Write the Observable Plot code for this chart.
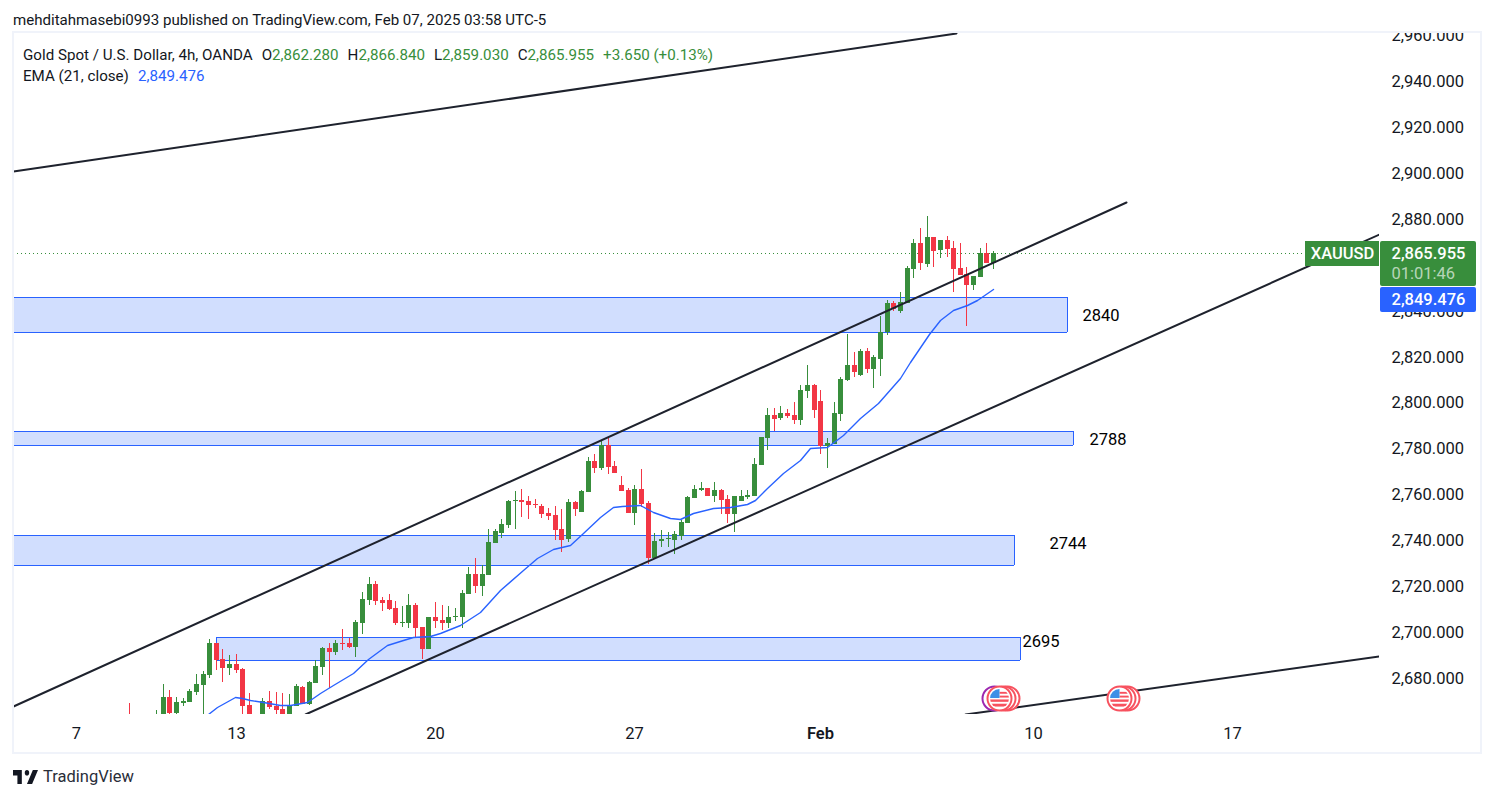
<!DOCTYPE html>
<html><head><meta charset="utf-8">
<script src="https://cdn.jsdelivr.net/npm/d3@7"></script>
<script src="https://cdn.jsdelivr.net/npm/@observablehq/plot@0.6"></script>
<style>
html,body{margin:0;padding:0;background:#fff;width:1494px;height:798px;overflow:hidden;font-family:Roboto,sans-serif;color:#131722}
#wrap{position:relative;width:1494px;height:798px}
#head{height:33px;line-height:41px;padding-left:13px;font-size:15.07px;box-sizing:border-box;white-space:nowrap}
#chart svg{display:block}
#frame{position:absolute;left:12px;top:31px;width:1466px;height:719px;border:2px solid #f0f3fa;pointer-events:none}
#legend{position:absolute;left:23px;top:45px;font-size:15.15px;line-height:21px;white-space:nowrap}
#legend .g{color:#388e3c}#legend .b{color:#2962ff}
#legend span.sp{margin-left:9px}
#foot{position:absolute;left:13px;top:767px;display:flex;align-items:center;gap:5px;font-size:16.5px;color:#2a2e39}
</style></head><body>
<div id="wrap">
<div id="head">mehditahmasebi0993 published on TradingView.com, Feb 07, 2025 03:58 UTC-5</div>
<div id="chart"></div>
<div id="frame"></div>
<div id="legend">
<div>Gold Spot / U.S. Dollar, 4h, OANDA<span class="sp">O</span><span class="g">2,862.280</span><span class="sp">H</span><span class="g">2,866.840</span><span class="sp">L</span><span class="g">2,859.030</span><span class="sp">C</span><span class="g">2,865.955</span><span class="g sp">+3.650 (+0.13%)</span></div>
<div>EMA (21, close)<span class="b sp">2,849.476</span></div>
</div>
<div id="foot"><svg width="25" height="14" viewBox="2 6 34 15" preserveAspectRatio="none"><path fill="#131722" d="M14 6H2v6h6v9h6V6zm14 15h-7l8-15h7l-8 15zm-7-9a3 3 0 1 0 0-6 3 3 0 0 0 0 6z"/></svg><span>TradingView</span></div>
</div>
<script>
const opens=[2663.5,2658,2656,2654,2660,2662.6,2671.7,2664.8,2669.1,2669.5,2673.9,2677,2681.3,2695.2,2688.3,2684.4,2686.1,2683.9,2668.2,2662,2662.6,2670,2667.8,2666.5,2663.5,2667.8,2676.1,2668.7,2677.8,2684.8,2693.1,2691.3,2695.2,2695.2,2693.5,2704,2714,2720.9,2714,2714,2710.5,2704,2704,2711.8,2702.2,2692.6,2706.6,2705.3,2704,2706.6,2706.6,2716.6,2725.3,2720.1,2724.9,2738.8,2743.1,2746.6,2757.1,2757.5,2757.1,2755.8,2754.9,2751.9,2751,2744.9,2740.5,2756.6,2752.3,2761,2774.5,2771.5,2781.5,2772.3,2764.1,2761.9,2751.9,2762.3,2756.2,2732.3,2739.7,2740.5,2740.1,2741.8,2747.5,2758.4,2761.9,2762.7,2759.3,2761.9,2758,2751.4,2757.1,2758.8,2759.3,2772.8,2784.5,2794.5,2793.2,2795.4,2794.5,2792.4,2805,2807.6,2800.6,2781,2781.9,2795,2809.8,2816.3,2812,2822.4,2814.6,2818.9,2830.7,2843.3,2839.8,2843.3,2858.1,2869.4,2860.3,2872.1,2866.4,2870.7,2867.3,2858.6,2855.9,2851.2,2854.6,2865.1,2860.7];
const highs=[2669.1,2660,2658,2656,2666.1,2677.4,2674.8,2671.7,2671.3,2675.2,2681.7,2683,2697,2695.2,2692.6,2690,2690.5,2684.4,2673.5,2663,2671.3,2674.3,2673.9,2673.5,2673,2677.4,2676.5,2678.7,2687.8,2693.5,2695.2,2696.5,2701.3,2697.4,2705.3,2717.5,2724,2722.2,2715.3,2716.6,2713.5,2711.4,2716.6,2712.7,2702.2,2706.6,2713.1,2711.8,2711.4,2710.5,2718.3,2728.3,2732.3,2729.2,2744.9,2744.9,2749.2,2757.5,2761.4,2762.3,2759.3,2758,2755.8,2754,2754.9,2753.6,2758,2757.1,2761.9,2776.2,2777.6,2783.6,2784.5,2774.5,2768,2762.7,2764.1,2771,2757.1,2743.1,2744.5,2743.6,2744,2748.8,2759.3,2764.1,2765.4,2762.7,2765.4,2762.3,2759.7,2759.3,2761.9,2761.9,2775.8,2785,2797.6,2797.6,2798.5,2797.1,2800.2,2807.6,2816.3,2808,2805.4,2784.5,2800.2,2811.1,2829.8,2822,2823.3,2823.7,2820.7,2837.7,2844.6,2844.2,2848.1,2859.4,2871.2,2876,2881.2,2872.1,2870.7,2872.5,2870.3,2869.4,2859,2855.1,2867.3,2869.4,2866];
const lows=[2657.4,2652,2650,2650,2658,2660.8,2663.5,2663.5,2667.8,2669.5,2672.6,2663.5,2680,2683.5,2678.3,2681.3,2682.2,2662.6,2660.8,2658,2660.8,2666.5,2663.5,2662.6,2663,2667.8,2668.7,2668.2,2677.8,2681.3,2675.6,2690,2692.2,2693.1,2689.1,2699.2,2711.8,2711.8,2709.2,2709.6,2703.1,2702.2,2701.8,2697.9,2688.3,2692.6,2701.8,2700.9,2701.8,2704.8,2701.8,2716.6,2717,2715.7,2724.9,2738.8,2741,2745.3,2744.9,2750.1,2749.2,2754,2749.7,2748.8,2740.1,2734.9,2739.2,2750.6,2752.3,2761,2769.3,2770.6,2768.8,2769.3,2761.4,2751.9,2746.6,2754.5,2729.6,2732.3,2737.1,2737.1,2734,2740.1,2747.5,2758.4,2761.4,2759.3,2756.6,2751.4,2747.5,2743.6,2757.1,2758,2759.3,2772.8,2779.3,2787.6,2792.4,2793.2,2790.6,2790.2,2801.9,2793.2,2777.6,2771.5,2781.9,2791.9,2809.3,2811.1,2811.5,2812.8,2806.3,2811.5,2829.4,2839.8,2839,2843.3,2854.2,2857.7,2859,2859,2862.9,2863.3,2848.1,2855.5,2833.3,2849,2854.6,2860.7,2858.2];
const closes=[2660.8,2656,2654,2660,2663.5,2671.7,2664.8,2669.5,2670,2674.3,2677.4,2681.7,2695.2,2687.8,2684.4,2686.1,2683.5,2667.8,2662.6,2660,2670,2667.4,2666.1,2663.5,2668.2,2676.5,2668.7,2678.3,2685.2,2693.1,2691.3,2695.2,2694.8,2693.5,2704.4,2714.4,2720.9,2713.5,2712.7,2710,2704,2704.4,2711.8,2701.8,2692.6,2706.6,2704.8,2704,2706.6,2707,2717,2725.3,2720.1,2725.3,2739.2,2744,2747.1,2757.1,2757.5,2756.6,2755.3,2755.3,2751.4,2750.6,2744.5,2740.1,2756.6,2753.6,2761.4,2774.5,2771.5,2781.5,2771.9,2769.3,2761.4,2751.9,2762.3,2755.8,2732.3,2739.7,2740.5,2741,2742.7,2747.9,2758.8,2762.3,2762.7,2759.3,2761.9,2757.5,2751.4,2759.3,2759.3,2759.7,2773.2,2785,2794.5,2792.8,2795.4,2794.1,2792.4,2805.4,2807.6,2796.7,2781,2782.3,2795.4,2810.2,2816.3,2813.3,2822.4,2814.6,2819.8,2830.7,2843.3,2840.7,2843.7,2858.6,2869.4,2860.7,2872.1,2866,2870.7,2866.8,2858.1,2855.5,2851.2,2855.1,2865.1,2860.7,2865.1];

const emaBars=[11.83,13.18,15.89,16.95,18.15,20.11,22.67,24.17,26.73,28.69,30.64,33.66,35.91,38.77,41.18,42.69,45.25,46.75,49.76,52.77,55.78,59.25,61.35,63.76,66.32,68.28,70.84,72.79,74.15,76.86,78.82,81.37,82.88,84.84,87.85,90.41,92.97,94.17,95.98,98.38,100.94,102.45,105,107.4,109.98,112.7,116,117.5,120.36,122.02,123.98,126.08,127.59,130];
const emaValues=[2664.3,2667.4,2671.7,2671.3,2670.4,2669.5,2668.2,2668.2,2669.5,2673.5,2677,2682.2,2688.3,2694.4,2696.5,2697.9,2698.3,2699.6,2703.1,2708.7,2718.3,2727,2732.3,2736.2,2737.9,2743.1,2750.1,2754.5,2754.9,2755.3,2752.3,2749.7,2749.2,2751.9,2754,2754.5,2755.8,2757.5,2762.7,2769.3,2774.9,2780.2,2780.6,2785.8,2793.2,2799.8,2810.7,2817.6,2829.8,2835.9,2840.3,2842.4,2844.6,2849.476];

const zoneLabels=["2840","2788","2744","2695"];
const zoneStart=[-30,-30,-30,13.03];
const zoneEnd=[141.1,142,133.2,134.1];
const zoneTop=[2845.9,2787.6,2742.3,2697.9];
const zoneBottom=[2830.7,2781.5,2729.2,2687.8];
const zoneLabelBar=[143.4,144.4,138.4,134.4];
const zoneLabelPrice=[2838.1,2784.1,2738.8,2696.1];

const trendBars=[[-17.53,124.4],[-17.53,150],[26.43,188.1],[125.8,188.1]];
const trendPrices=[[2900.8,2960.9],[2667.8,2887.3],[2664.3,2873.4],[2664.3,2689.6]];

const priceTicks=[2680,2700,2720,2740,2760,2780,2800,2820,2840,2880,2900,2920,2940,2960];
const dateTickBars=[-8,16,46,76,136,166];
const dateTickLabels=["7","13","20","27","10","17"];
const monthTickBars=[104];
const monthTickLabels=["Feb"];

const lastPrice=2865.1;
const eventBarsBack=[130.1,132.1,131.5,150.2,149.6];
const eventBarsBackColors=["#9c27b0","#f7525f","#f7525f","#f7525f","#f7525f"];
const eventBarsFront=[130.95,148.9];
const eventPrice=2671.3;

const green="#388e3c",red="#f23645",blue="#2962ff",ink="#131722",line="#1e222d";
const bars=opens.map((o,i)=>({i,o,h:highs[i],l:lows[i],c:closes[i]}));
const up=bars.filter(b=>b.c>=b.o), down=bars.filter(b=>b.c<b.o);
const ema=emaBars.map((x,i)=>({x,y:emaValues[i]}));
const zones=zoneLabels.map((label,i)=>({label,x1:zoneStart[i],x2:zoneEnd[i],y1:zoneBottom[i],y2:zoneTop[i],lx:zoneLabelBar[i],ly:zoneLabelPrice[i]}));
const zoneEdges=zones.flatMap(z=>[{y:z.y1,x1:z.x1,x2:z.x2},{y:z.y2,x1:z.x1,x2:z.x2}]);
const trends=trendBars.flatMap((b,k)=>b.map((x,j)=>({k,x,y:trendPrices[k][j]})));

const flag="data:image/svg+xml,"+encodeURIComponent('<svg xmlns="http://www.w3.org/2000/svg" viewBox="0 0 20 20"><defs><clipPath id="c"><circle cx="10" cy="10" r="10"/></clipPath></defs><g clip-path="url(#c)"><rect width="20" height="20" fill="#fff"/><rect x="10" y="3" width="10" height="2" fill="#f7525f"/><rect x="10" y="7" width="10" height="2" fill="#f7525f"/><rect y="11" width="20" height="2.5" fill="#f7525f"/><rect y="15.5" width="20" height="3" fill="#f7525f"/><rect width="10" height="9.5" fill="#3d8fe6"/></g></svg>');

const axisFont={fontFamily:"Roboto,sans-serif",fontSize:16.5,fill:ink};
const plot=Plot.plot({
  width:1494,height:719,marginTop:0,marginBottom:38,marginLeft:13,marginRight:115,
  style:{background:"#fff",fontFamily:"Roboto,sans-serif"},
  x:{domain:[-17.53,188.1],round:true},
  y:{domain:[2664.3,2960.9],round:true},
  marks:[
    Plot.rect(zones,{x1:"x1",x2:"x2",y1:"y1",y2:"y2",fill:"#d1defe",clip:true}),
    Plot.ruleY(zoneEdges,{y:"y",x1:"x1",x2:"x2",stroke:blue,strokeWidth:1,clip:true}),
    Plot.ruleX(zones,{x:"x1",y1:"y1",y2:"y2",stroke:blue,strokeWidth:1,clip:true}),
    Plot.ruleX(zones,{x:"x2",y1:"y1",y2:"y2",stroke:blue,strokeWidth:1,clip:true}),
    Plot.ruleY([lastPrice],{stroke:green,strokeDasharray:"1 3",clip:true}),
    Plot.ruleX(up,{x:"i",y1:"l",y2:"h",stroke:green,strokeWidth:1,clip:true}),
    Plot.ruleX(down,{x:"i",y1:"l",y2:"h",stroke:red,strokeWidth:1,clip:true}),
    Plot.ruleX(up,{x:"i",y1:"o",y2:"c",stroke:green,strokeWidth:5,clip:true}),
    Plot.ruleX(down,{x:"i",y1:"o",y2:"c",stroke:red,strokeWidth:5,clip:true}),
    Plot.line(ema,{x:"x",y:"y",stroke:blue,strokeWidth:1.4,curve:"linear",clip:true}),
    Plot.line(trends,{x:"x",y:"y",z:"k",stroke:line,strokeWidth:2,clip:true}),
    Plot.text(zones,{x:"lx",y:"ly",text:"label",textAnchor:"start",fontSize:16.5,fill:"#000"}),
    Plot.axisY({anchor:"right",ticks:priceTicks,tickSize:0,tickPadding:12,label:null,
      tickFormat:d=>d3.format(",.3f")(d),...axisFont,dy:0.7,style:{letterSpacing:"1px"}}),
    Plot.axisX({ticks:dateTickBars,tickSize:0,tickPadding:13,label:null,
      tickFormat:d=>dateTickLabels[dateTickBars.indexOf(d)],...axisFont}),
    Plot.axisX({ticks:monthTickBars,tickSize:0,tickPadding:13,label:null,
      tickFormat:d=>monthTickLabels[monthTickBars.indexOf(d)],...axisFont,fontWeight:600}),
    Plot.dot(eventBarsBack,{x:d=>d,y:()=>eventPrice,r:12,fill:"#fff",stroke:(d,i)=>eventBarsBackColors[i],strokeWidth:2}),
    Plot.dot(eventBarsFront,{x:d=>d,y:()=>eventPrice,r:12,fill:"#fff",stroke:"#f7525f",strokeWidth:2}),
    Plot.image(eventBarsFront,{x:d=>d,y:()=>eventPrice,src:()=>flag,width:19,height:19}),
    Plot.rect([0],{x1:()=>177,x2:()=>188.1,y1:()=>2859.4,y2:()=>2870.3,fill:green}),
    Plot.rect([0],{x1:()=>188.3,x2:()=>202.7,y1:()=>2850.7,y2:()=>2870.3,fill:green,rx:2}),
    Plot.rect([0],{x1:()=>188.3,x2:()=>202.7,y1:()=>2839.4,y2:()=>2850.3,fill:blue,rx:2}),
    Plot.text(["XAUUSD"],{x:()=>182.55,y:()=>lastPrice,text:d=>d,fill:"#fff",fontSize:16.5,fontWeight:500}),
    Plot.text(["2,865.955"],{x:()=>189.9,y:()=>lastPrice,text:d=>d,textAnchor:"start",fill:"#fff",fontSize:16.5,fontWeight:500,style:{letterSpacing:"1px"}}),
    Plot.text(["01:01:46"],{x:()=>189.9,y:()=>2856.4,text:d=>d,textAnchor:"start",fill:"#fff",fillOpacity:0.65,fontSize:16.5,style:{letterSpacing:"1px"}}),
    Plot.text(["2,849.476"],{x:()=>189.9,y:()=>2845,text:d=>d,textAnchor:"start",fill:"#fff",fontSize:16.5,fontWeight:500,style:{letterSpacing:"1px"}})
  ]
});
document.getElementById("chart").appendChild(plot);
</script>
</body></html>
